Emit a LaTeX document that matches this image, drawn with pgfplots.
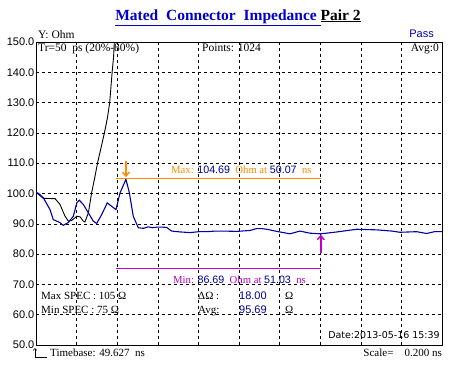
\documentclass[border=0pt]{standalone}
\usepackage{pgfplots}
\pgfplotsset{compat=1.18}
\usetikzlibrary{arrows.meta}
\usepackage{fontspec}
\setmainfont{Liberation Serif}
\newfontfamily\sansf{Liberation Sans}
\newfontfamily\dejav{DejaVu Sans}
\definecolor{navyc}{RGB}{0,0,170}
\definecolor{titleblue}{RGB}{0,0,204}
\definecolor{numblue}{RGB}{0,0,150}
\definecolor{orng}{RGB}{255,140,0}
\definecolor{mgnt}{RGB}{190,0,200}
\begin{document}
\begin{tikzpicture}
\path[use as bounding box] (0pt,0pt) rectangle (451pt,-370pt);
\begin{axis}[
  at={(36pt,-42pt)}, anchor=north west,
  width=406pt, height=303pt, scale only axis,
  xmin=49.627, xmax=51.627, ymin=50, ymax=150,
  xtick={49.827,50.027,50.227,50.427,50.627,50.827,51.027,51.227,51.427},
  xticklabels={},
  ytick={50,60,70,80,90,100,110,120,130,140,150},
  grid=major,
  major grid style={black, line width=0.6pt, dash pattern=on 3pt off 3pt},
  tick style={draw=none},
  axis line style={black, line width=0.9pt},
  yticklabel style={font=\sansf\fontsize{11}{11}\selectfont, inner sep=1.5pt,
    /pgf/number format/.cd, fixed, fixed zerofill, precision=1, assume math mode=true},
  clip=true,
]
% TDR step curve (black)
\addplot[black, line width=0.9pt] coordinates {
(49.627,100.4) (49.663,98.4) (49.721,98.3) (49.745,96.4) (49.770,92.5)
(49.786,90.9) (49.803,91.1) (49.828,92.5) (49.844,92.3) (49.860,90.9)
(49.868,90.6) (49.885,93.6) (49.901,100.2) (49.918,105.8) (49.930,110)
(49.947,115) (49.964,120) (49.979,125) (49.990,130) (50.002,140)
(50.009,145) (50.013,150) (50.016,155)
};
% Impedance curve (blue)
\addplot[navyc, line width=1.1pt] coordinates {
(49.627,100.4) (49.640,100.0) (49.663,98.6) (49.696,94.7) (49.712,91.4)
(49.745,90.4) (49.761,89.5) (49.786,90.4) (49.811,92.5) (49.828,96.9)
(49.840,97.8) (49.860,96.4) (49.885,93.6) (49.909,90.9) (49.926,90.1)
(49.951,93.1) (49.978,96.9) (50.005,95.5) (50.021,94.7) (50.041,100.2)
(50.070,104.69) (50.087,100.2) (50.106,92.5) (50.131,88.7) (50.156,88.5)
(50.180,89.0) (50.200,88.7) (50.222,88.9) (50.250,88.9) (50.271,88.8)
(50.295,87.6) (50.340,87.3) (50.386,87.1) (50.430,87.4) (50.468,87.4)
(50.510,87.6) (50.550,87.6) (50.616,87.5) (50.681,87.8) (50.713,88.4)
(50.740,88.4) (50.764,88.2) (50.813,87.5) (50.878,86.7) (50.927,87.6)
(50.977,86.9) (51.030,86.69) (51.108,87.3) (51.207,88.2) (51.305,88.0)
(51.380,87.6) (51.420,87.2) (51.502,87.4) (51.551,86.8) (51.590,87.4)
(51.627,87.4)
};
% Max / Min markers
\addplot[orng, line width=1pt] coordinates {(50.022,105.1) (51.030,105.1)};
\addplot[orng, line width=1.4pt, -{Straight Barb[length=4pt,width=7pt]}] coordinates {(50.070,110.6) (50.070,105.4)};
\addplot[mgnt, line width=1pt] coordinates {(50.022,75.1) (51.030,75.1)};
\addplot[mgnt, line width=1.4pt, -{Straight Barb[length=4pt,width=7pt]}] coordinates {(51.030,80.3) (51.030,86.4)};
\end{axis}
% Title
\node[anchor=base, inner sep=0pt] at (238pt,-20pt) {\bfseries\fontsize{15.5}{15.5}\selectfont
  \textcolor{titleblue}{\underline{Mated\ \ Connector\ \ Impedance\ }}\underline{Pair 2}};
% Header texts
\node[anchor=base west, inner sep=0pt] at (38pt,-38pt) {\fontsize{11.5}{11.5}\selectfont Y: Ohm};
\node[anchor=base east, inner sep=0pt] at (434pt,-37pt) {\sansf\fontsize{11}{11}\selectfont\textcolor{navyc}{Pass}};
\node[anchor=base west, inner sep=0pt] at (38pt,-51pt) {\fontsize{11.5}{11.5}\selectfont Tr=50\ \ ps (20\%-80\%)};
\node[anchor=base west, inner sep=0pt] at (202pt,-51pt) {\fontsize{11.5}{11.5}\selectfont Points: 1024};
\node[anchor=base east, inner sep=0pt] at (439pt,-51pt) {\fontsize{11.5}{11.5}\selectfont Avg:0};
% Max / Min labels
\node[anchor=base west, inner sep=0pt] at (171pt,-173pt) {\fontsize{10.7}{10.7}\selectfont
  \textcolor{orng}{Max:} \textcolor{numblue}{\sansf 104.69}\ \ \textcolor{orng}{Ohm at} \textcolor{numblue}{\sansf 50.07}\ \ \textcolor{orng}{ns}};
\node[anchor=base west, inner sep=0pt] at (173pt,-283pt) {\fontsize{10.7}{10.7}\selectfont
  \textcolor{mgnt}{Min:} \textcolor{numblue}{\sansf 86.69}\ \ \textcolor{mgnt}{Ohm at} \textcolor{numblue}{\sansf 51.03}\ \ \textcolor{mgnt}{ns}};
% Spec texts
\node[anchor=base west, inner sep=0pt] at (41pt,-299pt) {\fontsize{11}{11}\selectfont Max SPEC : 105 Ω};
\node[anchor=base west, inner sep=0pt] at (41pt,-313pt) {\fontsize{11}{11}\selectfont Min SPEC : 75 Ω};
\node[anchor=base west, inner sep=0pt] at (198pt,-299pt) {\fontsize{11}{11}\selectfont ΔΩ :};
\node[anchor=base west, inner sep=0pt] at (198pt,-313pt) {\fontsize{11}{11}\selectfont Avg:};
\node[anchor=base west, inner sep=0pt] at (239pt,-299pt) {\sansf\fontsize{11}{11}\selectfont\textcolor{numblue}{18.00}};
\node[anchor=base west, inner sep=0pt] at (239pt,-313pt) {\sansf\fontsize{11}{11}\selectfont\textcolor{numblue}{95.69}};
\node[anchor=base west, inner sep=0pt] at (285pt,-299pt) {\fontsize{11}{11}\selectfont Ω};
\node[anchor=base west, inner sep=0pt] at (285pt,-313pt) {\fontsize{11}{11}\selectfont Ω};
\node[anchor=base east, inner sep=0pt] at (440pt,-338pt) {\dejav\fontsize{9.5}{9.5}\selectfont Date:2013-05-16 15:39};
% Footer
\draw[black, line width=0.7pt, -{Straight Barb[length=2pt,width=4pt]}] (35pt,-357pt) -- (35pt,-348pt);
\draw[black, line width=0.7pt] (35pt,-357pt) -- (47pt,-357pt);
\node[anchor=base west, inner sep=0pt] at (50pt,-356pt) {\fontsize{11}{11}\selectfont Timebase: 49.627\ \ ns};
\node[anchor=base east, inner sep=0pt] at (442pt,-356pt) {\fontsize{11}{11}\selectfont Scale=\ \ \ \ 0.200\ ns};
\end{tikzpicture}
\end{document}
